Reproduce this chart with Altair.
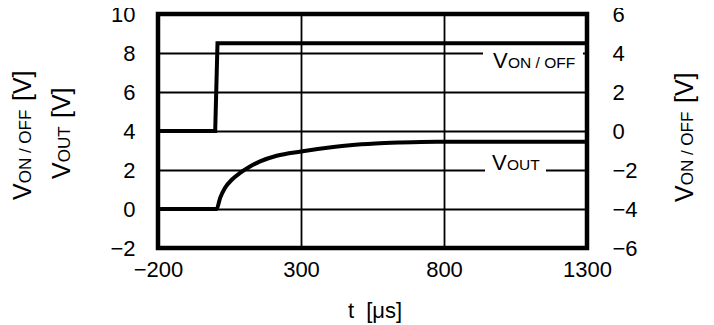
import altair as alt
import pandas as pd

# ---- data ----
t_von = [-200, 0, 8, 1300]
v_von = [0, 0, 4.5, 4.5]
t_vout = [-200, 5, 17, 34, 58, 87, 116, 157, 215, 300, 413, 471, 560, 646, 720, 803, 1300]
v_vout = [0, 0, 0.56, 1.08, 1.50, 1.85, 2.13, 2.44, 2.73, 2.95, 3.18, 3.27, 3.36, 3.41, 3.44, 3.45, 3.45]
x_ticks = [-200, 300, 800, 1300]
left_ticks = [-2, 0, 2, 4, 6, 8, 10]
right_ticks = [-6, -4, -2, 0, 2, 4, 6]

FONT = "Liberation Sans"
W, H = 429, 234
NB = "\u00a0"

df_von = pd.DataFrame({"t": t_von, "v": v_von})
df_vout = pd.DataFrame({"t": t_vout, "v": v_vout})
one = pd.DataFrame({"k": [0]})

xs = alt.Scale(domain=[-200, 1300], nice=False, zero=False)
x_axis = alt.Axis(values=x_ticks, format="d", grid=True, gridColor="black", gridWidth=1.8,
                  labelFontSize=22, labelFont=FONT, labelColor="black",
                  labelPadding=11, ticks=False, domain=False,
                  labelFlush=False, labelOverlap=False)
x_enc = alt.X("t:Q", scale=xs, axis=x_axis, title=None)

left_axis = alt.Axis(values=left_ticks, format="d", grid=True, gridColor="black", gridWidth=1.8,
                     labelFontSize=22, labelFont=FONT, labelColor="black",
                     labelPadding=23, ticks=False, domain=False,
                     labelFlush=False, labelOverlap=False)
right_axis = alt.Axis(values=right_ticks, format="d", orient="right", grid=False,
                      labelFontSize=22, labelFont=FONT, labelColor="black",
                      labelPadding=25, ticks=False, domain=False,
                      labelFlush=False, labelOverlap=False)


def piece(text, x, y, size, angle=0, align="left"):
    return alt.Chart(one).mark_text(
        text=text, fontSize=size, font=FONT, align=align,
        baseline="alphabetic", angle=angle, color="black"
    ).encode(x=alt.value(x), y=alt.value(y))


def box(x1, x2, y1, y2):
    return alt.Chart(one).mark_rect(color="white").encode(
        x=alt.value(x1), x2=alt.value(x2), y=alt.value(y1), y2=alt.value(y2))


vout_line = alt.Chart(df_vout).mark_line(
    color="black", strokeWidth=4, interpolate="monotone"
).encode(
    x=x_enc,
    y=alt.Y("v:Q", scale=alt.Scale(domain=[-2, 10], nice=False, zero=False),
            axis=left_axis, title=None),
)

von_line = alt.Chart(df_von).mark_line(color="black", strokeWidth=4).encode(
    x=x_enc,
    y=alt.Y("v:Q", scale=alt.Scale(domain=[-6, 6], nice=False, zero=False),
            axis=right_axis, title=None),
)

texts = [
    # in-plot label boxes
    box(325, 425, 33, 56),
    box(327, 388, 138, 161),
    # VON / OFF label
    piece("V", 335, 54, 22),
    piece("ON / OFF", 350, 54, 15.5),
    # VOUT label
    piece("V", 334, 156, 22),
    piece("OUT", 349, 156, 15.5),
    # left title 1
    piece("V", -127, 186, 25, 270),
    piece("ON / OFF", -127, 169.3, 17, 270),
    piece("[V]", -127, 87, 25, 270),
    # left title 2
    piece("V", -88, 165, 25, 270),
    piece("OUT", -88, 148.3, 17, 270),
    piece("[V]", -88, 104, 25, 270),
    # right title
    piece("V", 535, 188, 25, 270),
    piece("ON / OFF", 535, 171.3, 17, 270),
    piece("[V]", 535, 89, 25, 270),
    # x title
    piece("t" + NB + NB + "[μs]", 217, 304, 22, 0, "center"),
]

left_group = alt.layer(vout_line, *texts)

chart = alt.layer(left_group, von_line).resolve_scale(y="independent").properties(
    width=W, height=H,
    padding={"left": 150, "top": 6, "right": 119, "bottom": 77},
    autosize=alt.AutoSizeParams(type="none"),
).configure_view(stroke="black", strokeWidth=4.5)

chart.save("out.html", embed_options={"renderer": "svg", "actions": False})
